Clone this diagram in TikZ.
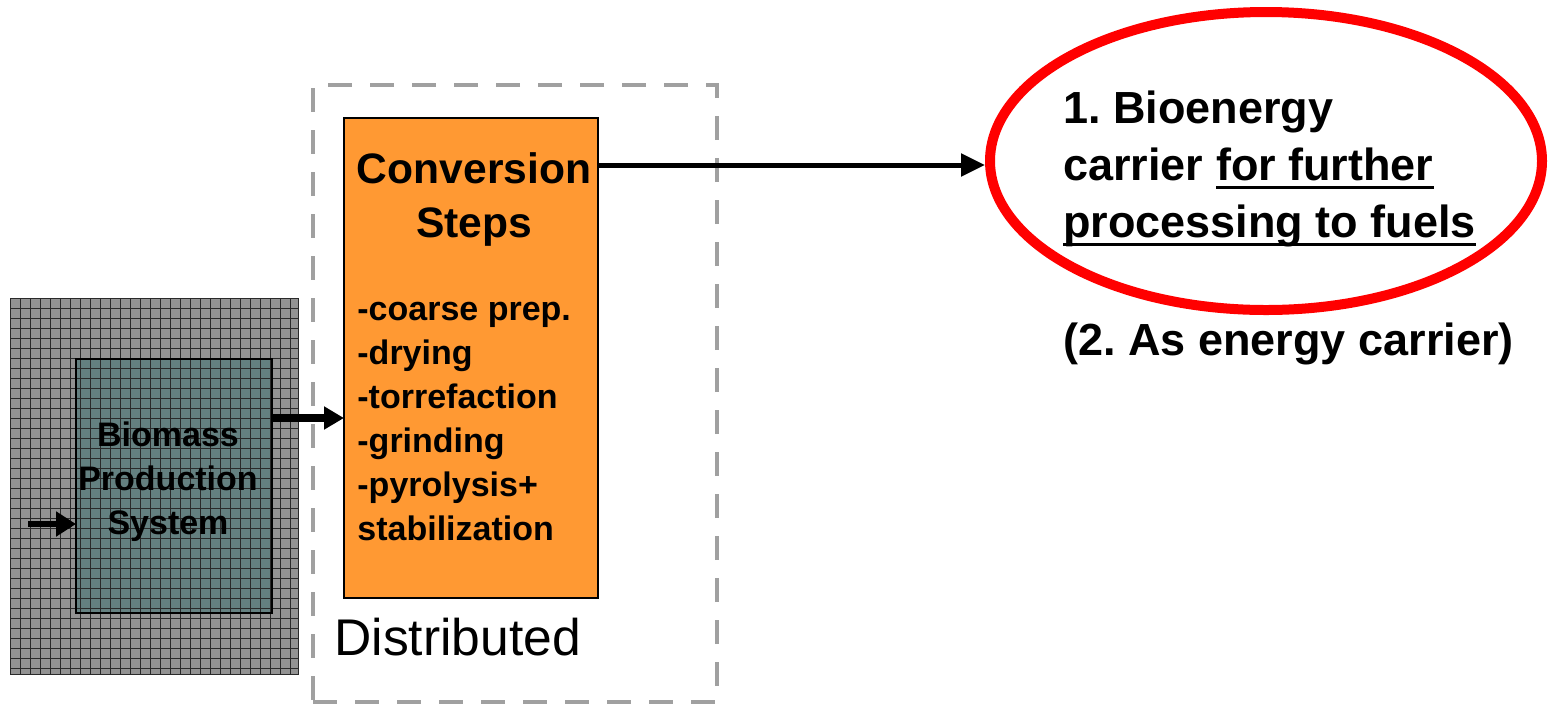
\documentclass[tikz,border=0pt]{standalone}
\usepackage{fontspec}
\setmainfont{Liberation Sans}
\usetikzlibrary{arrows.meta,shapes.geometric}
\definecolor{orangebox}{HTML}{FF9933}
\definecolor{gridgray}{HTML}{939393}
\definecolor{tealbox}{HTML}{648080}
\definecolor{gridline}{HTML}{2A2A2A}
\definecolor{ellred}{HTML}{FF0000}
\definecolor{dashgray}{HTML}{A0A0A0}
\newcommand\myul[1]{\setbox0\hbox{#1}\rlap{\rule[-4.25pt]{\wd0}{1.5pt}}\box0}
\frenchspacing
\begin{document}
\begin{tikzpicture}[x=0.5pt,y=-0.5pt,
  plainbox/.style={rectangle,inner sep=0pt,outer sep=0pt},
  gridline/.style={draw=gridline,line width=0.5pt},
  itemtxt/.style={anchor=base west,inner sep=0pt,font=\bfseries\fontsize{17pt}{20pt}\selectfont},
  titletxt/.style={anchor=base,inner sep=0pt,font=\bfseries\fontsize{21.3pt}{25pt}\selectfont},
  biotxt/.style={anchor=base,inner sep=0pt,font=\bfseries\fontsize{17pt}{20pt}\selectfont},
  righttxt/.style={anchor=base west,inner sep=0pt,font=\bfseries\fontsize{22.5pt}{27pt}\selectfont},
  arrowA/.style={line width=2.5pt,-{Triangle[length=12pt,width=11pt]}},
  arrowB/.style={line width=4pt,-{Triangle[length=10pt,width=11pt]}},
  arrowC/.style={line width=3pt,-{Triangle[length=10pt,width=12pt]}}]
\useasboundingbox (0,0) rectangle (1548,708);
% outer grid area
\node[plainbox,fill=gridgray,minimum width=144pt,minimum height=188pt] (outer) at (154,486) {};
\node[plainbox,fill=tealbox,minimum width=98pt,minimum height=127pt] (bio) at (174,486) {};
\foreach \x in {10,20,...,290} \draw[gridline] (\x,298) -- (\x,674);
\foreach \y in {298,308,...,668} \draw[gridline] (10,\y) -- (298,\y);
\draw[gridline] (outer.north west) rectangle (outer.south east);
\draw[line width=1.2pt] (bio.north west) rectangle (bio.south east);
\node[biotxt] (bio1) at (168,446) {Biomass};
\node[biotxt] (bio2) at (168,490) {Production};
\node[biotxt] (bio3) at (168,534) {System};
% dashed distributed box
\node[plainbox,draw=dashgray,line width=2pt,dash pattern=on 12pt off 9pt,minimum width=202pt,minimum height=308.5pt] (dist) at (515,393.5) {};
\node[anchor=base west,inner sep=0pt,font=\fontsize{25.8pt}{30pt}\selectfont] (distlbl) at (334,655) {Distributed};
% conversion box
\node[plainbox,draw=black,line width=1pt,fill=orangebox,minimum width=127pt,minimum height=240pt] (conv) at (471,358) {};
\node[titletxt] (conv1) at (474,183) {Conversion};
\node[titletxt] (conv2) at (474,237) {Steps};
\node[itemtxt] (it1) at (357,320) {-coarse prep.};
\node[itemtxt] (it2) at (357,364) {-drying};
\node[itemtxt] (it3) at (357,408) {-torrefaction};
\node[itemtxt] (it4) at (357,452) {-grinding};
\node[itemtxt] (it5) at (357,496) {-pyrolysis+};
\node[itemtxt] (it6) at (357,540) {stabilization};
% ellipse
\node[ellipse,draw=ellred,line width=5pt,inner sep=0pt,minimum width=276pt,minimum height=149pt] (ell) at (1266,161) {};
\node[righttxt] (r1) at (1063,123) {1. Bioenergy};
\node[righttxt] (r2) at (1063,180) {carrier \myul{for further}};
\node[righttxt] (r3) at (1063,237) {\myul{processing to fuels}};
\node[righttxt] (r4) at (1063,355) {(2. As energy carrier)};
% connectors
\coordinate (inlet) at (28,524);
\draw[arrowC] (inlet) -- (bio.west |- inlet);
\draw[arrowB] (bio.east |- 0,418) -- (conv.west |- 0,418);
\draw[arrowA] (conv.east |- 0,165) -- (ell.west |- 0,165);
\end{tikzpicture}
\end{document}
